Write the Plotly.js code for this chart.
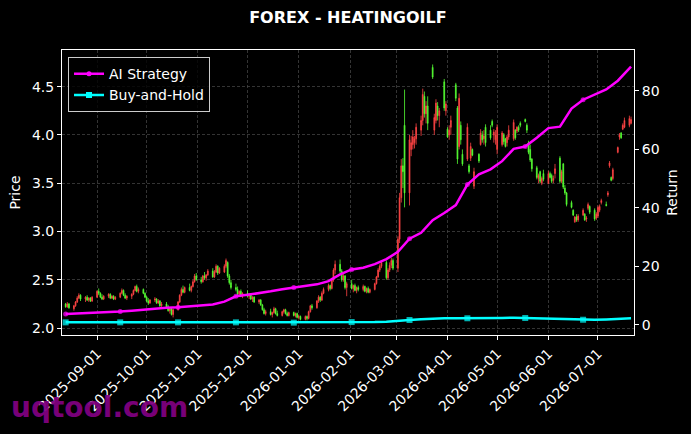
<!DOCTYPE html>
<html>
<head>
<meta charset="utf-8">
<script src="https://cdn.plot.ly/plotly-3.0.1.min.js"></script>
<style>
html,body{margin:0;padding:0;background:#000;}
#chart{width:691px;height:434px;}
</style>
</head>
<body>
<div id="chart"></div>
<script>
// ---- Daily OHLC (business days 2025-08-13 .. 2026-07-21), one line per week ----
const openP = [
 2.25,2.22,2.25,
 2.20,2.23,2.27,2.31,2.34,
 2.30,2.32,2.29,2.31,2.28,
 2.32,2.38,2.36,2.32,2.30,
 2.33,2.35,2.31,2.33,2.30,
 2.32,2.36,2.39,2.34,2.31,
 2.33,2.35,2.39,2.43,2.38,
 2.40,2.36,2.32,2.28,2.26,
 2.29,2.30,2.26,2.28,2.23,
 2.25,2.22,2.18,2.20,2.14,
 2.19,2.27,2.34,2.40,2.37,
 2.42,2.39,2.43,2.48,2.54,
 2.50,2.48,2.54,2.52,2.55,
 2.59,2.53,2.58,2.64,2.57,
 2.58,2.64,2.68,2.54,2.47,
 2.42,2.40,2.35,2.38,2.33,
 2.36,2.33,2.35,2.30,2.32,
 2.27,2.29,2.24,2.19,2.15,
 2.17,2.14,2.16,2.20,2.15,
 2.13,2.17,2.19,2.15,2.13,
 2.16,2.13,2.15,2.11,2.12,
 2.09,2.12,2.10,2.17,2.23,
 2.21,2.28,2.32,2.29,2.36,
 2.40,2.44,2.41,2.50,2.60,
 2.66,2.59,2.50,2.54,2.42,
 2.46,2.41,2.44,2.39,2.42,
 2.40,2.43,2.38,2.41,2.37,
 2.40,2.46,2.53,2.60,2.64,
 2.68,2.52,2.60,2.65,2.70,
 2.62,2.92,3.35,3.68,4.10,
 3.40,3.85,3.90,3.92,3.96,
 4.05,4.15,4.40,4.22,4.30,
 4.70,4.05,4.15,4.30,4.20,
 4.55,4.25,4.06,4.00,4.08,
 4.52,4.28,3.88,4.10,3.80,
 3.75,3.68,3.76,3.85,3.47,
 3.80,3.90,4.00,3.96,4.08,
 4.05,4.14,4.00,3.95,3.85,
 3.90,4.00,3.96,3.92,3.98,
 3.96,4.05,4.04,4.08,4.12,
 4.16,4.10,3.92,3.85,3.75,
 3.66,3.55,3.62,3.50,3.60,
 3.50,3.60,3.58,3.53,3.60,
 3.76,3.52,3.70,3.45,3.40,
 3.30,3.22,3.10,3.15,3.12,
 3.17,3.18,3.13,3.24,3.26,
 3.22,3.14,3.16,3.22,3.30,
 3.28,3.38,3.68,3.56,3.55,
 3.82,3.98,4.02,4.06,4.08,
 4.10,4.12
];
const highP = [
 2.26,2.27,2.26,
 2.24,2.28,2.33,2.36,2.35,
 2.33,2.34,2.32,2.32,2.33,
 2.39,2.41,2.37,2.35,2.34,
 2.36,2.36,2.34,2.34,2.33,
 2.37,2.41,2.40,2.36,2.34,
 2.36,2.40,2.44,2.45,2.42,
 2.41,2.37,2.33,2.31,2.30,
 2.32,2.31,2.30,2.29,2.27,
 2.27,2.24,2.21,2.21,2.20,
 2.28,2.35,2.42,2.44,2.43,
 2.46,2.44,2.50,2.56,2.57,
 2.53,2.55,2.58,2.56,2.61,
 2.62,2.60,2.66,2.65,2.63,
 2.66,2.72,2.69,2.56,2.50,
 2.46,2.43,2.39,2.40,2.37,
 2.39,2.36,2.36,2.33,2.33,
 2.30,2.30,2.25,2.21,2.19,
 2.20,2.17,2.22,2.21,2.18,
 2.18,2.20,2.20,2.17,2.17,
 2.17,2.16,2.16,2.14,2.13,
 2.13,2.13,2.18,2.24,2.25,
 2.29,2.34,2.33,2.38,2.42,
 2.46,2.45,2.52,2.62,2.70,
 2.71,2.61,2.56,2.55,2.48,
 2.50,2.45,2.46,2.43,2.44,
 2.45,2.44,2.42,2.43,2.41,
 2.47,2.54,2.62,2.66,2.70,
 2.70,2.62,2.68,2.73,2.72,
 2.95,3.40,3.75,3.76,4.47,
 4.00,3.99,4.05,3.99,4.12,
 4.20,4.48,4.45,4.35,4.40,
 4.73,4.22,4.37,4.34,4.28,
 4.58,4.35,4.08,4.10,4.20,
 4.54,4.30,4.43,4.14,3.85,
 4.12,3.70,3.92,3.86,3.66,
 3.81,4.06,4.04,4.05,4.11,
 4.10,4.16,4.06,4.05,4.11,
 4.04,4.02,3.97,4.00,4.10,
 4.16,4.06,4.09,4.10,4.14,
 4.17,4.12,3.94,3.90,3.76,
 3.68,3.60,3.63,3.57,3.64,
 3.63,3.62,3.60,3.58,3.70,
 3.78,3.64,3.71,3.48,3.41,
 3.32,3.23,3.16,3.18,3.18,
 3.24,3.19,3.16,3.30,3.27,
 3.24,3.20,3.27,3.28,3.34,
 3.31,3.42,3.73,3.57,3.66,
 3.88,4.02,4.03,4.12,4.18,
 4.20,4.19
];
const lowP = [
 2.21,2.21,2.20,
 2.18,2.22,2.26,2.30,2.28,
 2.27,2.28,2.27,2.27,2.27,
 2.31,2.34,2.31,2.29,2.29,
 2.31,2.30,2.30,2.29,2.29,
 2.31,2.35,2.33,2.30,2.29,
 2.30,2.34,2.38,2.37,2.36,
 2.35,2.31,2.27,2.24,2.25,
 2.27,2.25,2.25,2.22,2.22,
 2.21,2.17,2.15,2.13,2.11,
 2.18,2.26,2.33,2.36,2.36,
 2.38,2.37,2.42,2.47,2.49,
 2.46,2.47,2.50,2.49,2.54,
 2.52,2.52,2.57,2.55,2.56,
 2.57,2.62,2.52,2.45,2.40,
 2.38,2.34,2.33,2.32,2.31,
 2.32,2.30,2.29,2.27,2.26,
 2.25,2.23,2.18,2.14,2.13,
 2.13,2.11,2.15,2.14,2.12,
 2.12,2.15,2.14,2.12,2.12,
 2.12,2.11,2.10,2.09,2.08,
 2.08,2.08,2.09,2.16,2.19,
 2.20,2.26,2.27,2.28,2.35,
 2.38,2.39,2.40,2.48,2.56,
 2.57,2.48,2.48,2.40,2.33,
 2.40,2.37,2.38,2.36,2.38,
 2.38,2.37,2.36,2.36,2.36,
 2.39,2.45,2.52,2.58,2.62,
 2.50,2.50,2.58,2.62,2.60,
 2.58,2.88,3.30,3.45,3.25,
 3.27,3.78,3.85,3.86,3.90,
 3.99,4.10,4.18,4.12,4.05,
 4.58,4.00,4.12,4.15,4.08,
 4.25,4.20,3.97,3.95,4.00,
 4.35,3.70,3.85,3.90,3.68,
 3.73,3.60,3.73,3.78,3.44,
 3.71,3.89,3.92,3.90,3.88,
 3.95,4.08,3.92,3.90,3.80,
 3.88,3.90,3.87,3.88,3.95,
 3.94,3.95,4.02,4.03,4.08,
 4.13,4.02,3.80,3.72,3.62,
 3.54,3.50,3.50,3.48,3.52,
 3.49,3.55,3.50,3.50,3.55,
 3.50,3.50,3.44,3.38,3.26,
 3.24,3.16,3.09,3.10,3.10,
 3.16,3.11,3.10,3.22,3.18,
 3.11,3.12,3.14,3.20,3.28,
 3.26,3.36,3.66,3.52,3.53,
 3.81,3.95,3.96,4.05,4.07,
 4.08,4.11
];
const closeP = [
 2.22,2.25,2.21,
 2.23,2.27,2.31,2.34,2.30,
 2.32,2.29,2.31,2.28,2.32,
 2.38,2.36,2.32,2.30,2.33,
 2.35,2.31,2.33,2.30,2.32,
 2.36,2.39,2.34,2.31,2.33,
 2.35,2.39,2.43,2.38,2.40,
 2.36,2.32,2.28,2.26,2.29,
 2.30,2.26,2.28,2.23,2.25,
 2.22,2.18,2.20,2.14,2.19,
 2.27,2.34,2.40,2.37,2.42,
 2.39,2.43,2.48,2.54,2.50,
 2.48,2.54,2.52,2.55,2.59,
 2.53,2.58,2.64,2.57,2.62,
 2.64,2.70,2.54,2.47,2.42,
 2.40,2.35,2.38,2.33,2.36,
 2.33,2.35,2.30,2.32,2.27,
 2.29,2.24,2.19,2.15,2.17,
 2.14,2.16,2.20,2.15,2.13,
 2.17,2.19,2.15,2.13,2.16,
 2.13,2.15,2.11,2.12,2.09,
 2.12,2.10,2.17,2.23,2.21,
 2.28,2.32,2.29,2.36,2.40,
 2.44,2.41,2.50,2.60,2.66,
 2.59,2.50,2.54,2.42,2.46,
 2.41,2.44,2.39,2.42,2.40,
 2.43,2.38,2.41,2.37,2.40,
 2.46,2.53,2.60,2.64,2.68,
 2.52,2.60,2.65,2.70,2.62,
 2.92,3.35,3.68,3.62,3.40,
 3.95,3.92,3.98,3.96,4.08,
 4.15,4.42,4.22,4.30,4.12,
 4.60,4.18,4.33,4.20,4.25,
 4.28,4.32,3.98,4.05,4.15,
 4.38,3.75,4.38,3.95,3.70,
 4.08,3.62,3.88,3.79,3.62,
 3.73,4.02,3.95,3.99,3.92,
 3.97,4.10,4.03,4.00,4.08,
 4.02,3.93,3.88,3.98,4.05,
 4.13,3.97,4.08,4.05,4.10,
 4.14,4.05,3.82,3.74,3.65,
 3.56,3.58,3.52,3.55,3.54,
 3.60,3.56,3.52,3.55,3.65,
 3.52,3.62,3.46,3.40,3.28,
 3.25,3.17,3.15,3.12,3.16,
 3.22,3.12,3.14,3.28,3.20,
 3.13,3.18,3.25,3.26,3.32,
 3.27,3.40,3.71,3.53,3.64,
 3.87,4.00,3.97,4.10,4.15,
 4.17,4.16
];

// ---- Return curves (weekly points) ----
const lineDates = ['2025-08-13','2025-08-18','2025-08-25','2025-09-01','2025-09-08','2025-09-15','2025-09-22','2025-09-29',
 '2025-10-06','2025-10-13','2025-10-20','2025-10-27','2025-11-03','2025-11-10','2025-11-17','2025-11-24',
 '2025-12-01','2025-12-08','2025-12-15','2025-12-22','2025-12-29','2026-01-05','2026-01-12','2026-01-19','2026-01-26',
 '2026-02-02','2026-02-09','2026-02-16','2026-02-23','2026-03-02','2026-03-09','2026-03-16','2026-03-23','2026-03-30',
 '2026-04-06','2026-04-13','2026-04-20','2026-04-27','2026-05-04','2026-05-11','2026-05-18','2026-05-25',
 '2026-06-01','2026-06-08','2026-06-15','2026-06-22','2026-06-29','2026-07-06','2026-07-13','2026-07-20','2026-07-21'];
const aiStrategy = [3.8,3.9,4.1,4.3,4.4,4.6,4.9,5.3,5.6,5.9,6.1,6.4,6.6,7.0,8.0,9.8,10.3,10.8,11.5,12.2,12.8,13.3,13.9,15.0,17.3,
 19.0,19.6,20.8,22.5,25.0,29.5,31.5,35.8,38.3,41.0,48.0,51.5,53.2,56.0,60.2,61.0,64.0,67.3,67.8,74.0,77.0,78.8,80.5,83.5,87.5,88.3];
const buyHold = [0.9,0.9,0.9,0.9,0.9,0.9,0.9,0.9,0.9,0.8,0.9,0.9,1.0,1.0,1.0,0.9,0.9,0.9,0.8,0.8,0.8,0.8,0.9,0.9,1.0,
 1.0,1.0,1.0,1.1,1.3,1.7,2.0,2.2,2.3,2.3,2.3,2.2,2.3,2.4,2.5,2.4,2.3,2.2,2.1,2.0,1.8,1.8,1.9,2.1,2.2,2.3];

// business-day dates for candles
function businessDays(start, end) {
  const out = [];
  const d = new Date(start + 'T00:00:00Z');
  const e = new Date(end + 'T00:00:00Z');
  while (d <= e) {
    const wd = d.getUTCDay();
    if (wd !== 0 && wd !== 6) out.push(d.toISOString().slice(0, 10));
    d.setUTCDate(d.getUTCDate() + 1);
  }
  return out;
}
const candleDates = businessDays('2025-08-13', '2026-07-21');

const UP = '#ff4444', DOWN = '#55ff33';
const MAG = '#ff00ff', CYAN = '#00ffff';
const markEvery = 5;
const mkSize = (n, s) => Array.from({length: n}, (_, i) => (i % markEvery === 0 && i < n - 1) ? s : 0);

const font = 'DejaVu Sans, Liberation Sans, sans-serif';

const traces = [
  {
    type: 'candlestick', x: candleDates, open: openP, high: highP, low: lowP, close: closeP,
    increasing: {line: {color: UP, width: 0.8}, fillcolor: UP},
    decreasing: {line: {color: DOWN, width: 0.8}, fillcolor: DOWN},
    whiskerwidth: 0, showlegend: false, xaxis: 'x', yaxis: 'y', hoverinfo: 'skip'
  },
  {
    type: 'scatter', mode: 'lines+markers', x: lineDates, y: aiStrategy, yaxis: 'y2',
    line: {color: MAG, width: 2.5},
    marker: {color: MAG, size: mkSize(lineDates.length, 5), symbol: 'circle', line: {width: 0}},
    showlegend: false
  },
  {
    type: 'scatter', mode: 'lines+markers', x: lineDates, y: buyHold, yaxis: 'y2',
    line: {color: CYAN, width: 2.5},
    marker: {color: CYAN, size: mkSize(lineDates.length, 6), symbol: 'square', line: {width: 0}},
    showlegend: false
  },
  {
    type: 'scatter', mode: 'lines+markers', x: [null], y: [null], yaxis: 'y2', name: 'AI Strategy',
    line: {color: MAG, width: 2.5}, marker: {color: MAG, size: 5, symbol: 'circle', line: {width: 0}}
  },
  {
    type: 'scatter', mode: 'lines+markers', x: [null], y: [null], yaxis: 'y2', name: 'Buy-and-Hold',
    line: {color: CYAN, width: 2.5}, marker: {color: CYAN, size: 6, symbol: 'square', line: {width: 0}}
  }
];

const gridStyle = {gridcolor: '#4a4a4a', griddash: '3px,2px', gridwidth: 0.7};

const layout = {
  width: 691, height: 434,
  paper_bgcolor: '#000000', plot_bgcolor: '#000000',
  margin: {l: 62, r: 57, t: 50, b: 99, pad: 0},
  font: {family: font, color: '#ffffff', size: 14},
  title: {text: '<b>FOREX - HEATINGOILF</b>', font: {family: font, size: 16, color: '#ffffff'},
          x: 0.5035, xanchor: 'center', y: 0.96, yanchor: 'middle'},
  xaxis: Object.assign({
    type: 'date', range: ['2025-08-10 19:00', '2026-07-22 19:00'],
    tick0: '2025-09-01', dtick: 'M1', tickformat: '%Y-%m-%d', tickangle: -45,
    showgrid: true, showline: true, linecolor: '#ffffff', linewidth: 1, mirror: true,
    ticks: 'outside', ticklen: 4, tickcolor: '#ffffff', tickfont: {size: 14, color: '#ffffff'},
    rangeslider: {visible: false}, zeroline: false
  }, gridStyle),
  yaxis: Object.assign({
    range: [1.928, 4.88], dtick: 0.5, tick0: 2.0, tickformat: '.1f',
    showgrid: true, showline: true, linecolor: '#ffffff', linewidth: 1, mirror: true,
    ticks: 'outside', ticklen: 4, tickcolor: '#ffffff', tickfont: {size: 14, color: '#ffffff'},
    title: {text: 'Price', font: {size: 14, color: '#ffffff'}, standoff: 8}, zeroline: false
  }, gridStyle),
  yaxis2: {
    overlaying: 'y', side: 'right', range: [-3.42, 94.0], dtick: 20, tick0: 0,
    showgrid: false, showline: true, linecolor: '#ffffff', linewidth: 1,
    ticks: 'outside', ticklen: 4, tickcolor: '#ffffff', tickfont: {size: 14, color: '#ffffff'},
    title: {text: 'Return', font: {size: 14, color: '#ffffff'}, standoff: 8}, zeroline: false
  },
  legend: {
    x: 0.0105, y: 0.975, xanchor: 'left', yanchor: 'top',
    bgcolor: 'rgba(0,0,0,0.8)', bordercolor: '#cccccc', borderwidth: 1,
    font: {size: 14, color: '#ffffff'}, tracegroupgap: 2
  },
  annotations: [{
    text: '<b>uqtool.com</b>', xref: 'paper', yref: 'paper', x: -0.093, y: -0.255,
    xanchor: 'left', yanchor: 'middle', showarrow: false,
    font: {family: font, size: 28, color: 'rgba(128,0,128,0.95)'}
  }],
  showlegend: true
};

Plotly.newPlot('chart', traces, layout, {staticPlot: true, displayModeBar: false});
</script>
</body>
</html>
